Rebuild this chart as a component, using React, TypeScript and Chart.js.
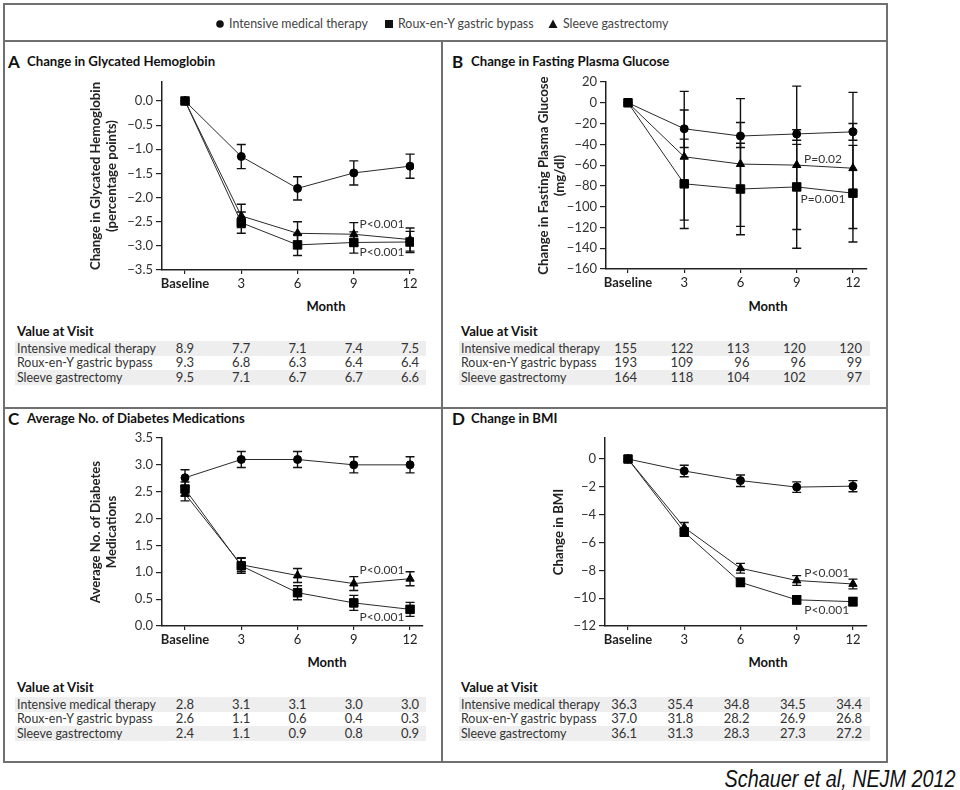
import React, { useEffect, useRef } from 'react';
import { Chart, registerables } from 'chart.js';
Chart.register(...registerables);

const FONT = 'Lato, "Open Sans", sans-serif';

// ---------- shared categories ----------
const months = [0, 3, 6, 9, 12];
const monthLabels = ['Baseline', '3', '6', '9', '12'];
const groupNames = ['Intensive medical therapy', 'Roux-en-Y gastric bypass', 'Sleeve gastrectomy'];

// ---------- Panel A: change in glycated hemoglobin ----------
const hbaMed = [0, -1.15, -1.81, -1.49, -1.35];
const hbaMedLo = [null, -1.4, -2.05, -1.74, -1.6];
const hbaMedHi = [null, -0.9, -1.57, -1.24, -1.1];
const hbaRygb = [0, -2.52, -2.98, -2.93, -2.92];
const hbaRygbLo = [null, -2.74, -3.2, -3.15, -3.14];
const hbaRygbHi = [null, -2.3, -2.76, -2.71, -2.7];
const hbaSleeve = [0, -2.38, -2.74, -2.76, -2.87];
const hbaSleeveLo = [null, -2.62, -2.98, -3.0, -3.11];
const hbaSleeveHi = [null, -2.14, -2.5, -2.52, -2.63];
const hbaTicks = [-3.5, -3, -2.5, -2, -1.5, -1, -0.5, 0];
const hbaPText = ['P<0.001', 'P<0.001'];
const hbaPY = [-2.55, -3.13];
const hbaTable = [
  ['8.9', '7.7', '7.1', '7.4', '7.5'],
  ['9.3', '6.8', '6.3', '6.4', '6.4'],
  ['9.5', '7.1', '6.7', '6.7', '6.6'],
];

// ---------- Panel B: change in fasting plasma glucose ----------
const fpgMed = [0, -25, -32, -30, -28];
const fpgMedLo = [null, -43, -43, -36, -36];
const fpgMedHi = [null, -7, -19, -26, -20];
const fpgRygb = [0, -78, -83, -81, -87];
const fpgRygbLo = [null, -121, -127, -122, -121];
const fpgRygbHi = [null, -35, -39, -40, -41];
const fpgSleeve = [0, -52, -59, -60, -63];
const fpgSleeveLo = [null, -113, -119, -140, -134];
const fpgSleeveHi = [null, 11, 4, 16, 10];
const fpgTicks = [-160, -140, -120, -100, -80, -60, -40, -20, 0, 20];
const fpgPText = ['P=0.02', 'P=0.001'];
const fpgPY = [-54, -93];
const fpgTable = [
  ['155', '122', '113', '120', '120'],
  ['193', '109', '96', '96', '99'],
  ['164', '118', '104', '102', '97'],
];

// ---------- Panel C: average number of diabetes medications ----------
const medsMed = [2.76, 3.1, 3.1, 3.0, 3.0];
const medsMedLo = [2.61, 2.95, 2.95, 2.85, 2.85];
const medsMedHi = [2.91, 3.25, 3.25, 3.15, 3.15];
const medsRygb = [2.55, 1.12, 0.62, 0.43, 0.31];
const medsRygbLo = [2.42, 0.98, 0.49, 0.29, 0.18];
const medsRygbHi = [2.68, 1.26, 0.75, 0.57, 0.44];
const medsSleeve = [2.46, 1.14, 0.94, 0.79, 0.88];
const medsSleeveLo = [2.33, 1.01, 0.81, 0.66, 0.75];
const medsSleeveHi = [2.59, 1.27, 1.07, 0.92, 1.01];
const medsTicks = [0, 0.5, 1, 1.5, 2, 2.5, 3, 3.5];
const medsPText = ['P<0.001', 'P<0.001'];
const medsPY = [1.04, 0.17];
const medsTable = [
  ['2.8', '3.1', '3.1', '3.0', '3.0'],
  ['2.6', '1.1', '0.6', '0.4', '0.3'],
  ['2.4', '1.1', '0.9', '0.8', '0.9'],
];

// ---------- Panel D: change in BMI ----------
const bmiMed = [0, -0.86, -1.55, -2.02, -1.95];
const bmiMedLo = [null, -1.27, -1.97, -2.4, -2.35];
const bmiMedHi = [null, -0.45, -1.15, -1.64, -1.55];
const bmiRygb = [0, -5.25, -8.86, -10.12, -10.25];
const bmiRygbLo = [null, -5.55, -9.16, -10.42, -10.55];
const bmiRygbHi = [null, -4.95, -8.56, -9.82, -9.95];
const bmiSleeve = [0, -4.92, -7.85, -8.73, -8.98];
const bmiSleeveLo = [null, -5.28, -8.2, -9.08, -9.33];
const bmiSleeveHi = [null, -4.56, -7.5, -8.38, -8.63];
const bmiTicks = [-12, -10, -8, -6, -4, -2, 0];
const bmiPText = ['P<0.001', 'P<0.001'];
const bmiPY = [-8.19, -10.85];
const bmiTable = [
  ['36.3', '35.4', '34.8', '34.5', '34.4'],
  ['37.0', '31.8', '28.2', '26.9', '26.8'],
  ['36.1', '31.3', '28.3', '27.3', '27.2'],
];

// ---------- helpers ----------
const minus = (s: string) => s.replace('-', '\u2212');
const fmt1 = (v: number) => minus(v.toFixed(1));
const fmt0 = (v: number) => minus(String(Math.round(v)));

const errorBarPlugin = {
  id: 'errorBars',
  beforeDatasetsDraw(chart: any) {
    const { ctx, scales } = chart;
    const x = scales.x, y = scales.y;
    ctx.save();
    ctx.strokeStyle = '#111';
    ctx.lineWidth = 1.4;
    chart.data.datasets.forEach((ds: any) => {
      const lo = ds.errLow as (number | null)[];
      const hi = ds.errHigh as (number | null)[];
      if (!lo || !hi) return;
      lo.forEach((l, i) => {
        const h = hi[i];
        if (l == null || h == null) return;
        const px = x.getPixelForValue(months[i]);
        const pl = y.getPixelForValue(l);
        const ph = y.getPixelForValue(h);
        ctx.beginPath();
        ctx.moveTo(px, pl);
        ctx.lineTo(px, ph);
        ctx.moveTo(px - 4.5, pl);
        ctx.lineTo(px + 4.5, pl);
        ctx.moveTo(px - 4.5, ph);
        ctx.lineTo(px + 4.5, ph);
        ctx.stroke();
      });
    });
    ctx.restore();
  },
};

const pLabelPlugin = {
  id: 'pLabels',
  afterDatasetsDraw(chart: any, _args: any, opts: any) {
    const { ctx, scales } = chart;
    ctx.save();
    ctx.font = `12px ${FONT}`;
    ctx.fillStyle = '#333';
    ctx.textAlign = 'center';
    ctx.textBaseline = 'middle';
    const texts: string[] = opts.texts || [];
    const ys: number[] = opts.ys || [];
    texts.forEach((t, i) => {
      ctx.fillText(t, scales.x.getPixelForValue(opts.x), scales.y.getPixelForValue(ys[i]));
    });
    ctx.restore();
  },
};

type Panel = {
  letter: string;
  title: string;
  yTitle: string[];
  yTitlePad: number;
  med: number[]; medLo: (number | null)[]; medHi: (number | null)[];
  rygb: number[]; rygbLo: (number | null)[]; rygbHi: (number | null)[];
  sleeve: number[]; sleeveLo: (number | null)[]; sleeveHi: (number | null)[];
  yTicks: number[];
  yFmt: (v: number) => string;
  yMin: number; yMax: number; xMin: number; xMax: number;
  pText: string[]; pY: number[]; pX: number;
  table: string[][];
  cx: number; cy: number; cw: number; ch: number;
  padL: number; padT: number; padR: number; padB: number;
  ox: number; oy: number;
  monthX: number; monthY: number;
  tableY: number;
};

const panels: Panel[] = [
  {
    letter: 'A', title: 'Change in Glycated Hemoglobin',
    yTitle: ['Change in Glycated Hemoglobin', '(percentage points)'], yTitlePad: 7,
    med: hbaMed, medLo: hbaMedLo, medHi: hbaMedHi,
    rygb: hbaRygb, rygbLo: hbaRygbLo, rygbHi: hbaRygbHi,
    sleeve: hbaSleeve, sleeveLo: hbaSleeveLo, sleeveHi: hbaSleeveHi,
    yTicks: hbaTicks, yFmt: fmt1, yMin: -3.5, yMax: 0.393, xMin: -1.227, xMax: 12.21,
    pText: hbaPText, pY: hbaPY, pX: 10.5, table: hbaTable,
    cx: 80, cy: 70, cw: 360, ch: 250, padL: 82, padT: 12, padR: 26, padB: 50,
    ox: 0, oy: 0, monthX: 326, monthY: 307, tableY: 332,
  },
  {
    letter: 'B', title: 'Change in Fasting Plasma Glucose',
    yTitle: ['Change in Fasting Plasma Glucose', '(mg/dl)'], yTitlePad: 15,
    med: fpgMed, medLo: fpgMedLo, medHi: fpgMedHi,
    rygb: fpgRygb, rygbLo: fpgRygbLo, rygbHi: fpgRygbHi,
    sleeve: fpgSleeve, sleeveLo: fpgSleeveLo, sleeveHi: fpgSleeveHi,
    yTicks: fpgTicks, yFmt: fmt0, yMin: -160, yMax: 20, xMin: -1.173, xMax: 12.75,
    pText: fpgPText, pY: fpgPY, pX: 10.4, table: fpgTable,
    cx: 520, cy: 70, cw: 370, ch: 250, padL: 86, padT: 12, padR: 23, padB: 51,
    ox: 444, oy: 0, monthX: 768, monthY: 307, tableY: 332,
  },
  {
    letter: 'C', title: 'Average No. of Diabetes Medications',
    yTitle: ['Average No. of Diabetes', 'Medications'], yTitlePad: 7,
    med: medsMed, medLo: medsMedLo, medHi: medsMedHi,
    rygb: medsRygb, rygbLo: medsRygbLo, rygbHi: medsRygbHi,
    sleeve: medsSleeve, sleeveLo: medsSleeveLo, sleeveHi: medsSleeveHi,
    yTicks: medsTicks, yFmt: fmt1, yMin: 0, yMax: 3.5, xMin: -1.227, xMax: 12.69,
    pText: medsPText, pY: medsPY, pX: 10.5, table: medsTable,
    cx: 80, cy: 420, cw: 360, ch: 260, padL: 82, padT: 18, padR: 17, padB: 54,
    ox: 0, oy: 357, monthX: 327, monthY: 663, tableY: 688,
  },
  {
    letter: 'D', title: 'Change in BMI',
    yTitle: ['Change in BMI'], yTitlePad: 30,
    med: bmiMed, medLo: bmiMedLo, medHi: bmiMedHi,
    rygb: bmiRygb, rygbLo: bmiRygbLo, rygbHi: bmiRygbHi,
    sleeve: bmiSleeve, sleeveLo: bmiSleeveLo, sleeveHi: bmiSleeveHi,
    yTicks: bmiTicks, yFmt: fmt0, yMin: -12, yMax: 1.51, xMin: -1.227, xMax: 12.75,
    pText: bmiPText, pY: bmiPY, pX: 10.6, table: bmiTable,
    cx: 520, cy: 420, cw: 370, ch: 260, padL: 85, padT: 18, padR: 23, padB: 54,
    ox: 444, oy: 357, monthX: 768, monthY: 663, tableY: 688,
  },
];

function dataset(label: string, vals: number[], lo: (number | null)[], hi: (number | null)[], style: string, radius: number, order: number) {
  return {
    label,
    data: months.map((m, i) => ({ x: m, y: vals[i] })),
    errLow: lo,
    errHigh: hi,
    borderColor: '#2a2a2a',
    borderWidth: 1,
    backgroundColor: '#000',
    pointBackgroundColor: '#000',
    pointBorderColor: '#000',
    pointBorderWidth: 1,
    pointStyle: style,
    pointRadius: radius,
    pointHoverRadius: radius,
    tension: 0,
    order,
  };
}

function ChartPanel({ p }: { p: Panel }) {
  const ref = useRef<HTMLCanvasElement>(null);
  useEffect(() => {
    const cfg: any = {
      type: 'line',
      data: {
        datasets: [
          dataset(groupNames[0], p.med, p.medLo, p.medHi, 'circle', 4, 2),
          dataset(groupNames[1], p.rygb, p.rygbLo, p.rygbHi, 'rect', 6, 0),
          dataset(groupNames[2], p.sleeve, p.sleeveLo, p.sleeveHi, 'triangle', 4.8, 1),
        ],
      },
      plugins: [errorBarPlugin, pLabelPlugin],
      options: {
        animation: false,
        responsive: false,
        devicePixelRatio: 1,
        events: [],
        layout: { padding: { left: 0, top: p.padT, right: p.padR, bottom: 0 } },
        plugins: {
          legend: { display: false },
          tooltip: { enabled: false },
          pLabels: { texts: p.pText, ys: p.pY, x: p.pX },
        },
        scales: {
          x: {
            type: 'linear',
            min: p.xMin,
            max: p.xMax,
            afterBuildTicks: (s: any) => { s.ticks = months.map((v) => ({ value: v })); },
            afterFit: (s: any) => { s.height = p.padB; },
            border: { display: true, color: '#222', width: 1.5 },
            grid: { display: true, drawOnChartArea: false, drawTicks: true, tickLength: 4, color: '#222', lineWidth: 1.2 },
            ticks: {
              autoSkip: false,
              maxRotation: 0,
              padding: 2,
              color: '#222',
              font: (c: any) => ({ family: FONT, size: 13, weight: c.tick && c.tick.value === 0 ? 'bold' : 'normal' }),
              callback: (v: any) => monthLabels[months.indexOf(Number(v))] ?? '',
            },
          },
          y: {
            type: 'linear',
            min: p.yMin,
            max: p.yMax,
            afterBuildTicks: (s: any) => { s.ticks = p.yTicks.map((v) => ({ value: v })); },
            afterFit: (s: any) => { s.width = p.padL; },
            border: { display: true, color: '#222', width: 1.5 },
            grid: { display: true, drawOnChartArea: false, drawTicks: true, tickLength: 6, color: '#222', lineWidth: 1.2 },
            ticks: {
              autoSkip: false,
              padding: 3,
              color: '#333',
              font: { family: FONT, size: 13 },
              callback: (v: any) => p.yFmt(Number(v)),
            },
            title: {
              display: true,
              text: p.yTitle,
              color: '#222',
              font: { family: FONT, size: 13.2, weight: 'bold', lineHeight: 1.25 },
              padding: { top: p.yTitlePad, bottom: 0 },
            },
          },
        },
      },
    };
    const chart = new Chart(ref.current as HTMLCanvasElement, cfg);
    return () => chart.destroy();
  }, []);
  return (
    <canvas
      ref={ref}
      width={p.cw}
      height={p.ch}
      style={{ position: 'absolute', left: p.cx, top: p.cy, width: p.cw, height: p.ch }}
    />
  );
}

const T = (props: { x: number; y: number; children: any; style?: any; align?: 'left' | 'right' | 'center' }) => {
  const tx = props.align === 'right' ? '-100%' : props.align === 'center' ? '-50%' : '0';
  return (
    <div
      style={{
        position: 'absolute',
        left: props.x,
        top: props.y,
        transform: `translate(${tx}, -50%)`,
        whiteSpace: 'nowrap',
        lineHeight: 1.2,
        ...props.style,
      }}
    >
      {props.children}
    </div>
  );
};

function PanelText({ p }: { p: Panel }) {
  const left = p.ox;
  const rowYs = [p.tableY + 16.5, p.tableY + 31, p.tableY + 45.5];
  const unit = (p.cw - p.padL - p.padR) / (p.xMax - p.xMin);
  const baseline = p.cx + p.padL + (0 - p.xMin) * unit;
  const titleY = p.oy + 62;
  return (
    <>
      <T x={left + 8} y={titleY} style={{ fontSize: 17, fontWeight: 700, color: '#111' }}>{p.letter}</T>
      <T x={left + 27} y={titleY} style={{ fontSize: 13.2, fontWeight: 700, color: '#111' }}>{p.title}</T>
      <T x={p.monthX} y={p.monthY} align="center" style={{ fontSize: 13, fontWeight: 700, color: '#111' }}>Month</T>
      <T x={left + 17} y={p.tableY} style={{ fontSize: 13.2, fontWeight: 700, color: '#111' }}>Value at Visit</T>
      {[0, 2].map((r) => (
        <div key={'band' + r} style={{ position: 'absolute', left: left + 15, top: rowYs[r] - 7.25, width: 411, height: 14.5, background: '#eeeeee' }} />
      ))}
      {groupNames.map((g, r) => (
        <React.Fragment key={g}>
          <T x={left + 17} y={rowYs[r]} style={{ fontSize: 12.4, color: '#333' }}>{g}</T>
          {p.table[r].map((v, c) => (
            <T key={c} x={baseline + months[c] * unit + 9} y={rowYs[r]} align="right" style={{ fontSize: 13, color: '#333' }}>{v}</T>
          ))}
        </React.Fragment>
      ))}
    </>
  );
}

export default function App() {
  const line = '#707070';
  return (
    <div style={{ position: 'absolute', left: 0, top: 0, width: 960, height: 790, background: '#fff', fontFamily: FONT, overflow: 'hidden' }}>
      <div style={{ position: 'absolute', left: 3, top: 3, width: 885, height: 760, border: `2px solid ${line}`, boxSizing: 'border-box' }} />
      <div style={{ position: 'absolute', left: 3, top: 40, width: 885, height: 2, background: line }} />
      <div style={{ position: 'absolute', left: 441, top: 40, width: 2, height: 723, background: line }} />
      <div style={{ position: 'absolute', left: 3, top: 407, width: 885, height: 2, background: line }} />

      <svg style={{ position: 'absolute', left: 0, top: 0 }} width={960} height={40}>
        <circle cx={220} cy={24} r={3.8} fill="#111" />
        <rect x={385} y={20} width={8} height={8} fill="#111" />
        <polygon points="553,19.5 557.5,28 548.5,28" fill="#111" />
      </svg>
      <T x={229} y={24} style={{ fontSize: 12.4, color: '#444' }}>{groupNames[0]}</T>
      <T x={398} y={24} style={{ fontSize: 12.4, color: '#444' }}>{groupNames[1]}</T>
      <T x={563} y={24} style={{ fontSize: 12.4, color: '#444' }}>{groupNames[2]}</T>

      {panels.map((p) => (
        <React.Fragment key={p.letter}>
          <PanelText p={p} />
          <ChartPanel p={p} />
        </React.Fragment>
      ))}

      <div
        style={{
          position: 'absolute',
          right: 5,
          top: 779,
          transform: 'translateY(-50%) scaleX(0.86)',
          transformOrigin: 'right center',
          fontFamily: '"Liberation Sans", Arial, sans-serif',
          fontStyle: 'italic',
          fontSize: 23,
          color: '#111',
          whiteSpace: 'nowrap',
          lineHeight: 1,
        }}
      >
        Schauer et al, NEJM 2012
      </div>
    </div>
  );
}
